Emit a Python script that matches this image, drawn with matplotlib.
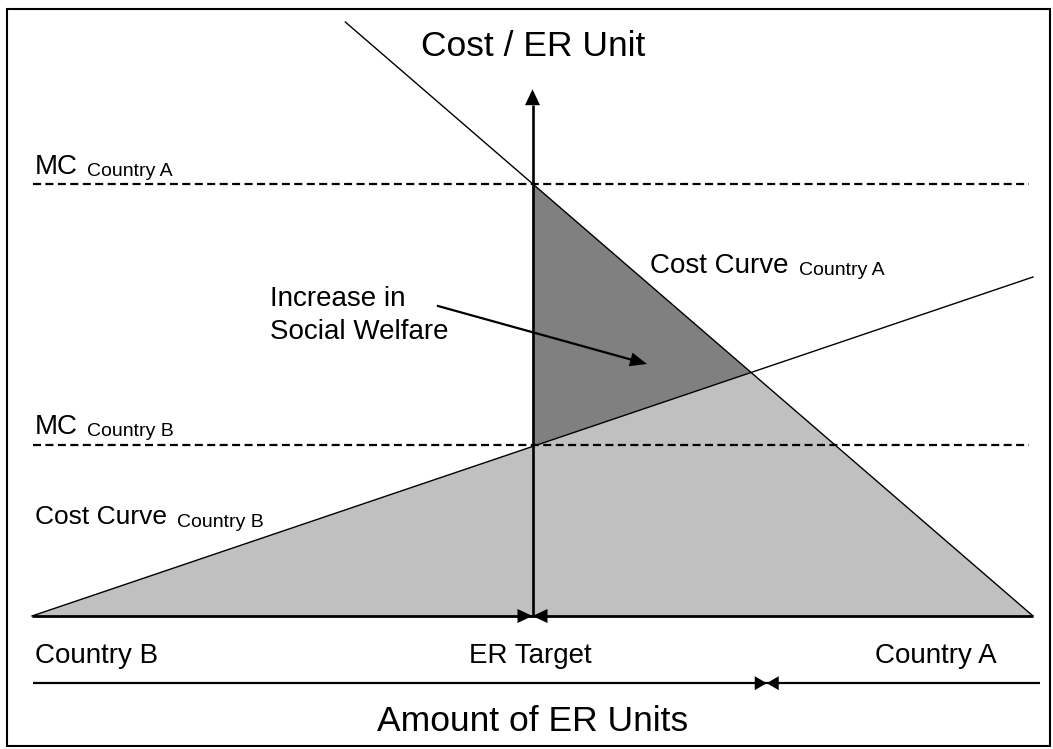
import numpy as np
import matplotlib
matplotlib.use("Agg")
import matplotlib.pyplot as plt
from matplotlib.patches import Rectangle

plt.rcParams['font.family'] = ['Liberation Sans', 'DejaVu Sans']

# ---------------- schematic data ----------------
# quantity axis: 0 (Country B end) .. 100 (Country A end); cost axis upward from the baseline
quantity_range = [0, 100]
er_target = 50
cost_curve_a_x = [31.3, 100]
cost_curve_a_y = [99, 0]
cost_curve_b_x = [0, 100]
cost_curve_b_y = [0, 56.5]
mc_levels = {"Country A": 72, "Country B": 28.5}
mc_line_x = [0.1, 99.6]
cost_axis_top = 87.8
amount_axis_y = -11.2
amount_axis_x = [0.1, 100.7]
amount_split = 73.4

# ---------------- layout helpers (pixel <-> data) ----------------
W, H = 1053, 749
SX, X0 = 10.01, 32.0   # px per unit, px of x=0
SY, Y0 = 6.0, 616.0    # px per unit, px of y=0 (from top)


def d(px, py):
    return ((px - X0) / SX, (Y0 - py) / SY)


def p(x, y):
    return (X0 + x * SX, Y0 - y * SY)


fig = plt.figure(figsize=(W / 100, H / 100), dpi=100)
ax = fig.add_axes([0, 0, 1, 1])
ax.set_xlim(d(0, 0)[0], d(W, 0)[0])
ax.set_ylim(d(0, H)[1], d(0, 0)[1])
ax.axis('off')


def line_val(xs, ys, x):
    return ys[0] + (x - xs[0]) * (ys[1] - ys[0]) / (xs[1] - xs[0])


# intersection of the two cost curves
ma = (cost_curve_a_y[1] - cost_curve_a_y[0]) / (cost_curve_a_x[1] - cost_curve_a_x[0])
ba = cost_curve_a_y[0] - ma * cost_curve_a_x[0]
mb = (cost_curve_b_y[1] - cost_curve_b_y[0]) / (cost_curve_b_x[1] - cost_curve_b_x[0])
bb = cost_curve_b_y[0] - mb * cost_curve_b_x[0]
xi = (bb - ba) / (ma - mb)
yi = ma * xi + ba

a_at_target = line_val(cost_curve_a_x, cost_curve_a_y, er_target)
b_at_target = line_val(cost_curve_b_x, cost_curve_b_y, er_target)

# filled areas
ax.fill([quantity_range[0], xi, quantity_range[1]], [0, yi, 0],
        color='#C0C0C0', lw=0, zorder=1)
ax.fill([er_target, er_target, xi], [a_at_target, b_at_target, yi],
        color='#808080', lw=0, zorder=1)

# cost curves
ax.plot(cost_curve_a_x, cost_curve_a_y, color='black', lw=1.0, zorder=3)
ax.plot(cost_curve_b_x, cost_curve_b_y, color='black', lw=1.0, zorder=3)

# marginal cost dashed lines
for lvl in mc_levels.values():
    ax.plot(mc_line_x, [lvl, lvl], color='black', lw=1.6,
            linestyle=(0, (3.6, 2.0)), zorder=2)


def head(tip, frm, length, half_w):
    """Filled arrow head, geometry in pixel space; tip/frm in data units."""
    t = np.array(p(*tip))
    f = np.array(p(*frm))
    u = (t - f) / np.linalg.norm(t - f)
    n = np.array([-u[1], u[0]])
    base = t - u * length
    pts = [t, base + n * half_w, base - n * half_w]
    dd = [d(*q) for q in pts]
    ax.fill([q[0] for q in dd], [q[1] for q in dd], color='black', lw=0, zorder=5)
    return d(*base)


# baseline with bow-tie at ER target
ax.plot(quantity_range, [0, 0], color='black', lw=2.0, zorder=4, solid_capstyle='butt')
head((er_target, 0), (quantity_range[0], 0), 15, 7)
head((er_target, 0), (quantity_range[1], 0), 15, 7)

# vertical cost axis with arrow
vb = head((er_target, cost_axis_top), (er_target, 0), 16, 7.5)
ax.plot([er_target, er_target], [0, vb[1]], color='black', lw=1.9, zorder=4,
        solid_capstyle='butt')

# amount axis with bow-tie
ax.plot(amount_axis_x, [amount_axis_y, amount_axis_y], color='black', lw=1.6, zorder=4,
        solid_capstyle='butt')
head((amount_split, amount_axis_y), (amount_axis_x[0], amount_axis_y), 12, 7)
head((amount_split, amount_axis_y), (amount_axis_x[1], amount_axis_y), 12, 7)

# social welfare arrow
sw_from = d(438, 306)
sw_tip = d(647, 364)
sb = head(sw_tip, sw_from, 17, 7)
ax.plot([sw_from[0], sb[0]], [sw_from[1], sb[1]], color='black', lw=1.6, zorder=4)

# border
fig.patches.append(Rectangle((7 / W, (H - 746) / H), (1050 - 7) / W, (746 - 9) / H,
                             transform=fig.transFigure, fill=False,
                             edgecolor='black', lw=1.5))

# texts
BIG, MID, SUB = 25.5, 20, 14


def txt(px, py, s, size, ha='left'):
    x, y = d(px, py)
    ax.text(x, y, s, fontsize=size, ha=ha, va='baseline', color='black', zorder=6)


txt(533, 56, "Cost / ER Unit", BIG, ha='center')
txt(533, 731, "Amount of ER Units", BIG, ha='center')
txt(35, 174, "MC", MID)
txt(87, 176, "Country A", SUB)
txt(35, 434, "MC", MID)
txt(87, 436, "Country B", SUB)
txt(35, 524, "Cost Curve", 19)
txt(177, 527, "Country B", SUB)
txt(650, 273, "Cost Curve", MID)
txt(799, 275, "Country A", SUB)
txt(270, 306, "Increase in", MID)
txt(270, 339, "Social Welfare", MID)
txt(35, 663, "Country B", MID)
txt(469, 663, "ER Target", MID)
txt(875, 663, "Country A", MID)

fig.savefig("out.png", dpi=100)
